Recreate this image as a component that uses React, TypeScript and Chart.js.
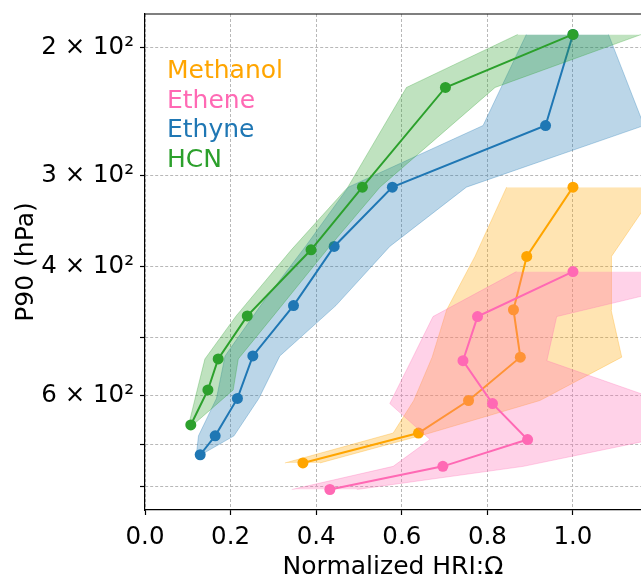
import React, { useEffect, useRef } from 'react';
import { Chart, registerables } from 'chart.js';

Chart.register(...registerables);

// ---- data ----
const seriesNames = ['Methanol', 'Ethene', 'Ethyne', 'HCN'];
const seriesColors = ['#FFA500', '#FF69B4', '#1f77b4', '#2ca02c'];
const seriesFills = ['rgba(255,165,0,0.3)', 'rgba(255,105,180,0.3)', 'rgba(31,119,180,0.3)', 'rgba(44,160,44,0.3)'];

const methanolP = [743, 676, 610, 532, 458, 387, 311];
const methanolX = [0.369, 0.639, 0.756, 0.877, 0.861, 0.892, 1.0];
const methanolLo = [0.327, 0.58, 0.628, 0.671, 0.705, 0.771, 0.845];
const methanolHi = [0.409, 0.666, 0.923, 1.114, 1.089, 1.09, 1.2];

const etheneP = [808, 751, 690, 616, 538, 468, 406];
const etheneX = [0.432, 0.696, 0.894, 0.812, 0.743, 0.777, 1.0];
const etheneLo = [0.343, 0.58, 0.666, 0.572, 0.622, 0.673, 0.868];
const etheneHi = [0.495, 0.884, 1.187, 1.225, 0.939, 0.962, 1.4];

const ethyneP = [724, 682, 606, 530, 452, 375, 311, 256, 192];
const ethyneX = [0.129, 0.164, 0.216, 0.252, 0.347, 0.442, 0.578, 0.936, 1.0];
const ethyneLo = [0.12, 0.125, 0.167, 0.187, 0.27, 0.375, 0.475, 0.79, 0.891];
const ethyneHi = [0.131, 0.208, 0.266, 0.315, 0.446, 0.572, 0.751, 1.166, 1.083];

const hcnP = [659, 590, 535, 467, 379, 311, 227, 192];
const hcnX = [0.107, 0.147, 0.171, 0.239, 0.388, 0.508, 0.702, 1.0];
const hcnLo = [0.102, 0.122, 0.14, 0.213, 0.342, 0.474, 0.611, 0.871];
const hcnHi = [0.112, 0.206, 0.218, 0.3, 0.425, 0.549, 0.818, 1.16];

const xTicks = [0, 0.2, 0.4, 0.6, 0.8, 1.0];
const xTickLabels = ['0.0', '0.2', '0.4', '0.6', '0.8', '1.0'];
const yTicks = [200, 300, 400, 500, 600, 700, 800];
const yTickLabels = ['2 × 10²', '3 × 10²', '4 × 10²', '', '6 × 10²', '', ''];

const FONT = '"DejaVu Sans", "Liberation Sans", sans-serif';

const mk = (xs: number[], ps: number[]) => xs.map((x, i) => ({ x, y: ps[i] }));

function buildDatasets() {
  const all = [
    [methanolP, methanolX, methanolLo, methanolHi],
    [etheneP, etheneX, etheneLo, etheneHi],
    [ethyneP, ethyneX, ethyneLo, ethyneHi],
    [hcnP, hcnX, hcnLo, hcnHi],
  ];
  const ds: any[] = [];
  all.forEach((s, k) => {
    const [p, x, lo, hi] = s;
    const base = 20 - k * 4;
    ds.push({
      label: seriesNames[k] + ' lo',
      data: mk(lo, p),
      borderColor: seriesFills[k],
      borderWidth: 1,
      pointRadius: 0,
      fill: false,
      order: base + 1,
    });
    ds.push({
      label: seriesNames[k] + ' hi',
      data: mk(hi, p),
      borderColor: seriesFills[k],
      backgroundColor: seriesFills[k],
      borderWidth: 1,
      pointRadius: 0,
      fill: '-1',
      order: base + 1,
    });
    ds.push({
      label: seriesNames[k],
      data: mk(x, p),
      borderColor: seriesColors[k],
      backgroundColor: seriesColors[k],
      borderWidth: 2,
      pointRadius: 5.5,
      pointBorderWidth: 0,
      pointBackgroundColor: seriesColors[k],
      fill: false,
      order: base,
    });
  });
  return ds;
}

const overlay = {
  id: 'overlay',
  afterDraw(chart: any) {
    const { ctx, chartArea } = chart;
    ctx.save();
    ctx.strokeStyle = '#000';
    ctx.lineWidth = 1.2;
    ctx.beginPath();
    ctx.moveTo(chartArea.left, chartArea.top);
    ctx.lineTo(chartArea.right, chartArea.top);
    ctx.stroke();
    ctx.font = '25px ' + FONT;
    ctx.textBaseline = 'alphabetic';
    ctx.textAlign = 'left';
    seriesNames.forEach((n, i) => {
      ctx.fillStyle = seriesColors[i];
      ctx.fillText(n, chartArea.left + 22, chartArea.top + 64 + i * 29.6);
    });
    ctx.restore();
  },
};

export default function App() {
  const ref = useRef<HTMLCanvasElement>(null);
  useEffect(() => {
    const chart = new Chart(ref.current as HTMLCanvasElement, {
      type: 'line',
      data: { datasets: buildDatasets() },
      options: {
        animation: false,
        responsive: false,
        devicePixelRatio: 1,
        indexAxis: 'y',
        layout: { autoPadding: false, padding: { top: 14, right: 0, left: 0, bottom: 0 } },
        plugins: {
          legend: { display: false },
          tooltip: { enabled: false },
          filler: { propagate: false },
        },
        scales: {
          x: {
            type: 'linear',
            min: 0,
            max: 1.159,
            afterBuildTicks: (s: any) => {
              s.ticks = xTicks.map((v) => ({ value: v }));
            },
            afterFit: (s: any) => {
              s.height = 66;
              s.paddingLeft = 0;
              s.paddingRight = 0;
            },
            ticks: {
              autoSkip: false,
              maxRotation: 0,
              color: '#000',
              padding: 8,
              font: { family: FONT, size: 24.5 },
              callback: (v: any) => {
                const i = xTicks.findIndex((t) => Math.abs(t - v) < 1e-6);
                return i >= 0 ? xTickLabels[i] : '';
              },
            },
            grid: { color: '#b8b8b8', lineWidth: 1, tickLength: 5, tickColor: '#000', tickWidth: 1.2 },
            border: { color: '#000', width: 1.2, dash: [3, 2] },
            title: {
              display: true,
              text: 'Normalized HRI:Ω',
              color: '#000',
              font: { family: FONT, size: 25, lineHeight: 1 },
              padding: { top: 0, bottom: -4 },
            },
          },
          y: {
            type: 'logarithmic',
            min: 180,
            max: 862,
            reverse: true,
            afterBuildTicks: (s: any) => {
              s.ticks = yTicks.map((v) => ({ value: v }));
            },
            afterFit: (s: any) => {
              s.width = 145;
              s.paddingTop = 0;
              s.paddingBottom = 0;
            },
            ticks: {
              autoSkip: false,
              color: '#000',
              padding: 6,
              font: { family: FONT, size: 24.5 },
              callback: (v: any) => {
                const i = yTicks.findIndex((t) => Math.abs(t - v) < 1e-6);
                return i >= 0 ? yTickLabels[i] : '';
              },
            },
            grid: { color: '#b8b8b8', lineWidth: 1, tickLength: 5, tickColor: '#000', tickWidth: 1.2 },
            border: { color: '#000', width: 1.2, dash: [3, 2] },
            title: {
              display: true,
              text: 'P90 (hPa)',
              color: '#000',
              font: { family: FONT, size: 25, lineHeight: 1 },
              padding: { top: 14, bottom: 0 },
            },
          },
        },
      } as any,
      plugins: [overlay],
    });
    return () => chart.destroy();
  }, []);
  return (
    <div style={{ position: 'fixed', left: 0, top: 0, width: 641, height: 576, overflow: 'hidden', background: '#fff' }}>
      <canvas ref={ref} width={641} height={576} style={{ display: 'block', width: 641, height: 576 }} />
    </div>
  );
}
